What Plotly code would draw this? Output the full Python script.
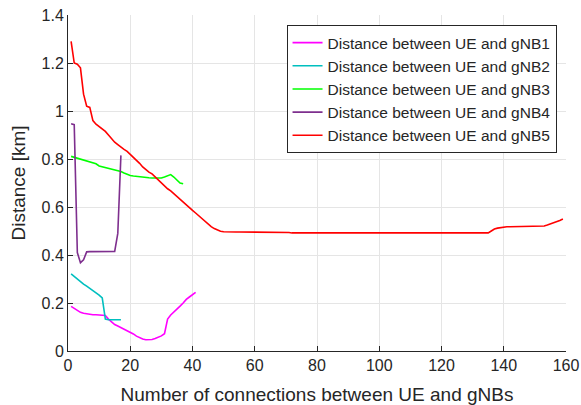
import plotly.graph_objects as go

x_gnb1 = list(range(1, 42))
d_gnb1 = [0.186, 0.178, 0.168, 0.161, 0.157, 0.154, 0.152, 0.151, 0.151, 0.150,
          0.150, 0.148, 0.133, 0.120, 0.110, 0.104, 0.098, 0.092, 0.085, 0.078,
          0.071, 0.062, 0.055, 0.050, 0.047, 0.047, 0.048, 0.052, 0.057, 0.063,
          0.072, 0.133, 0.150, 0.161, 0.172, 0.187, 0.200, 0.215, 0.225, 0.234,
          0.244]

x_gnb2 = list(range(1, 18))
d_gnb2 = [0.321, 0.310, 0.297, 0.287, 0.279, 0.270, 0.261, 0.252, 0.243, 0.233,
          0.221, 0.133, 0.130, 0.130, 0.130, 0.130, 0.130]

x_gnb3 = list(range(1, 38))
d_gnb3 = [0.811, 0.807, 0.803, 0.800, 0.795, 0.792, 0.789, 0.786, 0.780, 0.771,
          0.768, 0.765, 0.762, 0.759, 0.755, 0.751, 0.748, 0.742, 0.735, 0.731,
          0.729, 0.727, 0.725, 0.724, 0.723, 0.722, 0.721, 0.720, 0.719, 0.721,
          0.725, 0.730, 0.735, 0.725, 0.712, 0.700, 0.697]

x_gnb4 = list(range(1, 18))
d_gnb4 = [0.947, 0.943, 0.410, 0.368, 0.380, 0.413, 0.414, 0.414, 0.414, 0.414,
          0.414, 0.414, 0.414, 0.414, 0.415, 0.490, 0.815]

x_gnb5 = list(range(1, 160))
d_gnb5 = [1.290, 1.200, 1.195, 1.180, 1.070, 1.020, 1.015, 0.960, 0.945, 0.935,
          0.925, 0.915, 0.900, 0.885, 0.870, 0.860, 0.848, 0.840, 0.832, 0.820,
          0.808, 0.795, 0.782, 0.767, 0.755, 0.745, 0.738, 0.725, 0.712, 0.700,
          0.688, 0.676, 0.667, 0.655, 0.643, 0.630, 0.618, 0.607, 0.596, 0.586,
          0.575, 0.563, 0.551, 0.540, 0.530, 0.518, 0.510, 0.503, 0.499, 0.497,
          0.496, 0.496, 0.496, 0.496, 0.496, 0.496, 0.496, 0.496, 0.496, 0.496,
          0.496, 0.496, 0.496, 0.496, 0.496, 0.496, 0.496, 0.496, 0.496, 0.496,
          0.494, 0.492, 0.492, 0.492, 0.492, 0.492, 0.492, 0.492, 0.492, 0.492,
          0.492, 0.492, 0.492, 0.492, 0.492, 0.492, 0.492, 0.492, 0.492, 0.492,
          0.492, 0.492, 0.492, 0.492, 0.492, 0.492, 0.492, 0.492, 0.492, 0.492,
          0.492, 0.492, 0.492, 0.492, 0.492, 0.492, 0.492, 0.492, 0.492, 0.492,
          0.492, 0.492, 0.492, 0.492, 0.492, 0.492, 0.492, 0.492, 0.489, 0.489,
          0.489, 0.489, 0.489, 0.489, 0.489, 0.489, 0.489, 0.489, 0.489, 0.489,
          0.489, 0.490, 0.491, 0.491, 0.492, 0.500, 0.508, 0.512, 0.515, 0.517,
          0.518, 0.518, 0.518, 0.518, 0.518, 0.518, 0.518, 0.518, 0.518, 0.518,
          0.518, 0.519, 0.521, 0.525, 0.529, 0.535, 0.540, 0.544, 0.550]

names = ["Distance between UE and gNB1", "Distance between UE and gNB2",
         "Distance between UE and gNB3", "Distance between UE and gNB4",
         "Distance between UE and gNB5"]
colors = ["#FF00FF", "#00BFBF", "#00FF00", "#7E2F8E", "#FF0000"]

xs = [x_gnb1, x_gnb2, x_gnb3, x_gnb4, x_gnb5]
ys = [d_gnb1, d_gnb2, d_gnb3, d_gnb4, d_gnb5]

fig = go.Figure()
for xv, yv, n, c in zip(xs, ys, names, colors):
    fig.add_trace(go.Scatter(x=xv, y=yv, mode="lines", name=n,
                             line=dict(color=c, width=1.6)))

fam = "Liberation Sans, Arial, sans-serif"
fig.update_layout(
    width=581, height=405,
    margin=dict(l=67.5, r=14.5, t=15, b=53.7, autoexpand=False),
    paper_bgcolor="white", plot_bgcolor="white",
    font=dict(family=fam, size=16, color="#262626"),
    showlegend=True,
    legend=dict(x=0.981, y=0.970, xanchor="right", yanchor="top",
                bgcolor="white", bordercolor="#262626", borderwidth=1,
                font=dict(family=fam, size=15.5, color="#262626"),
                tracegroupgap=0),
    xaxis=dict(range=[0, 160], tickvals=[0, 20, 40, 60, 80, 100, 120, 140, 160],
               showgrid=True, gridcolor="#E5E5E5", gridwidth=1,
               showline=True, linecolor="#262626", linewidth=1,
               ticks="inside", ticklen=5, tickcolor="#262626",
               zeroline=False, tickfont=dict(size=16),
               title=dict(text="Number of connections between UE and gNBs",
                          font=dict(size=19), standoff=14)),
    yaxis=dict(range=[0, 1.4], tickvals=[0, 0.2, 0.4, 0.6, 0.8, 1, 1.2, 1.4],
               ticktext=["0", "0.2", "0.4", "0.6", "0.8", "1", "1.2", "1.4"],
               showgrid=True, gridcolor="#E5E5E5", gridwidth=1,
               showline=True, linecolor="#262626", linewidth=1,
               ticks="inside", ticklen=5, tickcolor="#262626",
               zeroline=False, tickfont=dict(size=16),
               title=dict(text="Distance [km]", font=dict(size=19), standoff=10)),
)

fig.write_html("out.html", config={"displayModeBar": False},
               post_script="document.body.style.margin='0';document.body.style.overflow='hidden';")
